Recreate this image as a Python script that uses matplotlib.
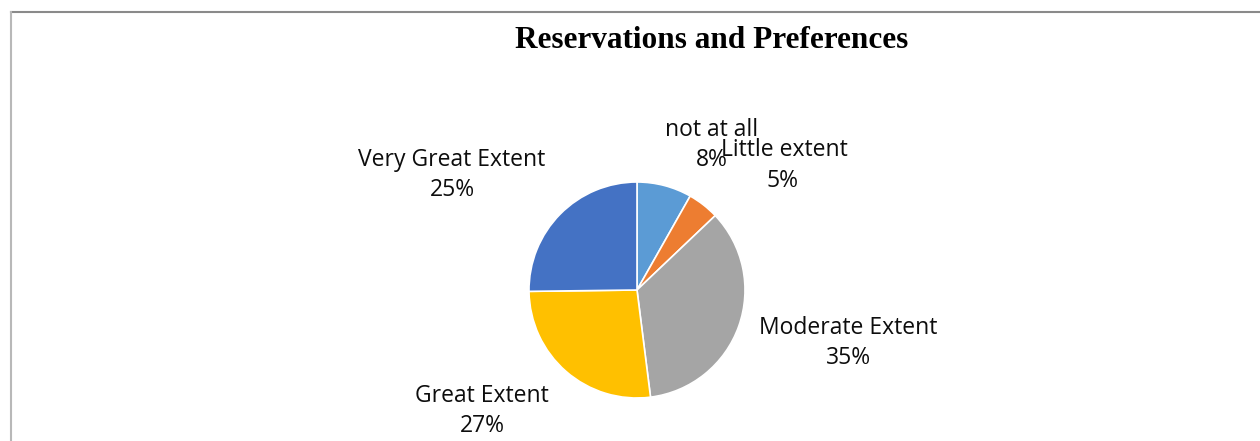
import matplotlib.pyplot as plt
from matplotlib.lines import Line2D

# data
labels = ['not at all', 'Little extent', 'Moderate Extent', 'Great Extent', 'Very Great Extent']
shares = [8.2, 4.7, 35.1, 26.8, 25.2]
pct_text = ['8%', '5%', '35%', '27%', '25%']
colors = ['#5B9BD5', '#ED7D31', '#A5A5A5', '#FFC000', '#4472C4']

W, H = 1260, 441
fig = plt.figure(figsize=(W / 100, H / 100), dpi=100)

# outer frame (only top and left edges visible)
fig.add_artist(Line2D([11 / W, 1.0], [1 - 12 / H, 1 - 12 / H],
                      transform=fig.transFigure, color='#8a8a8a', linewidth=1.5))
fig.add_artist(Line2D([11 / W, 11 / W], [1 - 12 / H, 0.0],
                      transform=fig.transFigure, color='#b8b8b8', linewidth=1.5))

fig.text(712 / W, 1 - 40 / H, 'Reservations and Preferences',
         ha='center', va='center', fontsize=22.5, fontweight='bold',
         family='Liberation Serif')

cx, cy, r = 637, 290, 108
ax = fig.add_axes([(cx - r) / W, (H - cy - r) / H, 2 * r / W, 2 * r / H])
ax.pie(shares, colors=colors, startangle=90, counterclock=False, radius=1,
       wedgeprops=dict(edgecolor='white', linewidth=1.2))
ax.set_xlim(-1, 1)
ax.set_ylim(-1, 1)
ax.set_aspect('equal')
ax.axis('off')

# label positions in pixels
name_pos = [(712, 130), (784, 150), (848, 328), (482, 396), (452, 160)]
pct_pos = [(712, 160), (783, 181), (848, 358), (482, 426), (452, 190)]
for (x, y), (px, py), name, pct in zip(name_pos, pct_pos, labels, pct_text):
    fig.text(x / W, 1 - y / H, name, ha='center', va='center',
             fontsize=16.5, family='Open Sans', color='#0d0d0d')
    fig.text(px / W, 1 - py / H, pct, ha='center', va='center',
             fontsize=16.5, family='Open Sans', color='#0d0d0d')

fig.savefig('out.png', dpi=100)
